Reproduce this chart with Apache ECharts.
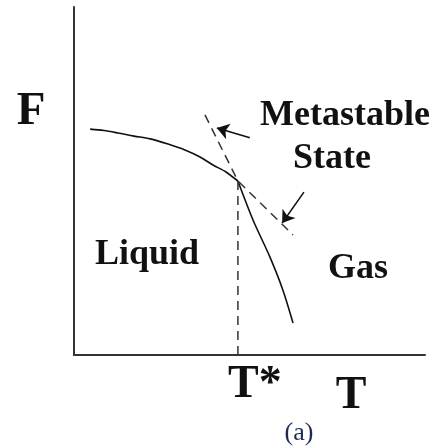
<!DOCTYPE html>
<html><head><meta charset="utf-8">
<script src="https://cdn.jsdelivr.net/npm/echarts@6/dist/echarts.min.js"></script>
<style>html,body{margin:0;padding:0;background:#fff}#c{width:434px;height:448px}</style>
</head><body><div id="c"></div>
<script>
// Free energy F vs temperature T (arbitrary units, axes 0..10)
const liquidCurve = [[0.46,6.49],[0.85,6.45],[1.25,6.38],[1.71,6.29],[2.17,6.21],[2.68,6.06],[3.16,5.89],[3.59,5.69],[3.96,5.46],[4.33,5.26],[4.67,5.00]];
const gasCurve = [[4.67,5.00],[5.10,3.88],[5.58,2.82],[5.95,1.87],[6.24,0.92]];
const metastable = [[3.73,6.90],[4.67,5.00],[6.24,3.45]];
const transitionLine = [[4.67,5.00],[4.67,0]];
const arrows = [
  [[5.01,6.24],[4.07,6.52]],
  [[6.55,4.68],[5.93,3.79]]
];
const labels = {yName:'F', xName:'T', tStar:'T*', caption:'(a)', liquid:'Liquid', gas:'Gas', meta1:'Metastable', meta2:'State'};

const chart = echarts.init(document.getElementById('c'), null, {renderer:'canvas'});
const ink = '#111';
const serif = '"Liberation Serif","Times New Roman",serif';
const axisCommon = {type:'value', min:0, max:10, axisTick:{show:false}, axisLabel:{show:false}, splitLine:{show:false},
  axisLine:{show:true, lineStyle:{color:'#333', width:2}}};
function txt(text, x, y, size, align, color, weight){
  return {type:'text', x:x, y:y, silent:true, style:{text:text, fill:color||ink, font:(weight||'bold')+' '+size+'px '+serif, align:align||'left', verticalAlign:'middle'}};
}
chart.setOption({
  animation:false,
  grid:{left:74, right:9, top:7, bottom:93},
  xAxis:axisCommon,
  yAxis:axisCommon,
  series:[
    {type:'line', data:liquidCurve, smooth:0.3, showSymbol:false, lineStyle:{color:ink, width:1.6}},
    {type:'line', data:gasCurve, smooth:0.3, showSymbol:false, lineStyle:{color:ink, width:1.6}},
    {type:'line', data:metastable, showSymbol:false, lineStyle:{color:'#333', width:1.5, type:[9,6]}},
    {type:'line', data:transitionLine, showSymbol:false, lineStyle:{color:'#333', width:1.5, type:[9,6]}},
    {type:'lines', coordinateSystem:'cartesian2d', symbol:['none','arrow'], symbolSize:[7,12],
      lineStyle:{color:ink, width:1.6, opacity:1}, data:arrows.map(a=>({coords:a}))}
  ],
  graphic:[
    txt(labels.yName, 31, 112, 47, 'center'),
    txt(labels.tStar, 228, 385, 46, 'left'),
    txt(labels.xName, 351, 396, 46, 'center'),
    txt(labels.caption, 299, 433, 26, 'center', '#1d2a55', 'normal'),
    txt(labels.liquid, 95, 255, 36, 'left'),
    txt(labels.meta1, 260, 116, 36, 'left'),
    txt(labels.meta2, 293, 159, 36, 'left'),
    txt(labels.gas, 328, 269, 36, 'left')
  ]
});
</script></body></html>
